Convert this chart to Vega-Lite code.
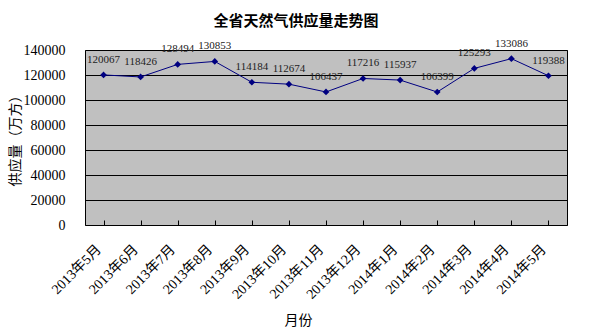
{
  "$schema": "https://vega.github.io/schema/vega-lite/v6.json",
  "autosize": {"type": "none"},
  "width": 482,
  "height": 175,
  "padding": {"left": 85, "top": 50, "right": 26, "bottom": 107},
  "background": "white",
  "title": {
    "text": "全省天然气供应量走势图",
    "anchor": "middle",
    "dx": -30,
    "fontSize": 15,
    "fontWeight": "bold",
    "font": "Noto Sans CJK SC",
    "color": "black",
    "offset": 9
  },
  "data": {
    "values": [
      {"month": "2013年5月", "value": 120067},
      {"month": "2013年6月", "value": 118426},
      {"month": "2013年7月", "value": 128494},
      {"month": "2013年8月", "value": 130853},
      {"month": "2013年9月", "value": 114184},
      {"month": "2013年10月", "value": 112674},
      {"month": "2013年11月", "value": 106437},
      {"month": "2013年12月", "value": 117216},
      {"month": "2014年1月", "value": 115937},
      {"month": "2014年2月", "value": 106399},
      {"month": "2014年3月", "value": 125293},
      {"month": "2014年4月", "value": 133086},
      {"month": "2014年5月", "value": 119388}
    ]
  },
  "encoding": {
    "x": {
      "field": "month",
      "type": "nominal",
      "sort": null,
      "scale": {"paddingInner": 0, "paddingOuter": 0},
      "axis": {
        "title": "月份",
        "titleFont": "Noto Sans CJK SC",
        "titleFontSize": 14,
        "titleFontWeight": "normal",
        "titleX": 213,
        "titleY": 95,
        "titleBaseline": "middle",
        "titleAlign": "center",
        "labelAngle": -45,
        "labelAlign": "right",
        "labelBaseline": "middle",
        "labelFont": "Liberation Serif, Noto Sans CJK SC",
        "labelFontSize": 14,
        "labelColor": "black",
        "labelPadding": 27,
        "labelOffset": -5,
        "bandPosition": 0,
        "ticks": true,
        "tickSize": -5,
        "tickColor": "black",
        "domain": false,
        "grid": false
      }
    },
    "y": {
      "field": "value",
      "type": "quantitative",
      "scale": {"domain": [0, 140000], "nice": false},
      "axis": {
        "title": "供应量（万方）",
        "titleFont": "Noto Sans CJK SC",
        "titleFontSize": 14,
        "titleFontWeight": "normal",
        "titleAngle": -90,
        "titleX": -70,
        "titleY": 87,
        "titleAlign": "center",
        "titleBaseline": "middle",
        "values": [0, 20000, 40000, 60000, 80000, 100000, 120000, 140000],
        "format": "d",
        "labelFont": "Liberation Serif",
        "labelFontSize": 14,
        "labelColor": "black",
        "labelPadding": 20,
        "ticks": false,
        "domain": false,
        "grid": true,
        "gridColor": "black",
        "gridOpacity": 1,
        "gridWidth": 1
      }
    }
  },
  "layer": [
    {"mark": {"type": "line", "color": "#000080", "strokeWidth": 1}},
    {"mark": {"type": "point", "shape": "diamond", "filled": true, "color": "#000080", "opacity": 1, "size": 45}},
    {
      "mark": {"type": "text", "dy": -15, "font": "Liberation Serif", "fontSize": 11, "color": "#222222"},
      "encoding": {"text": {"field": "value", "type": "quantitative", "format": "d"}}
    }
  ],
  "config": {
    "view": {"fill": "#C0C0C0", "stroke": "black", "strokeWidth": 1}
  }
}
